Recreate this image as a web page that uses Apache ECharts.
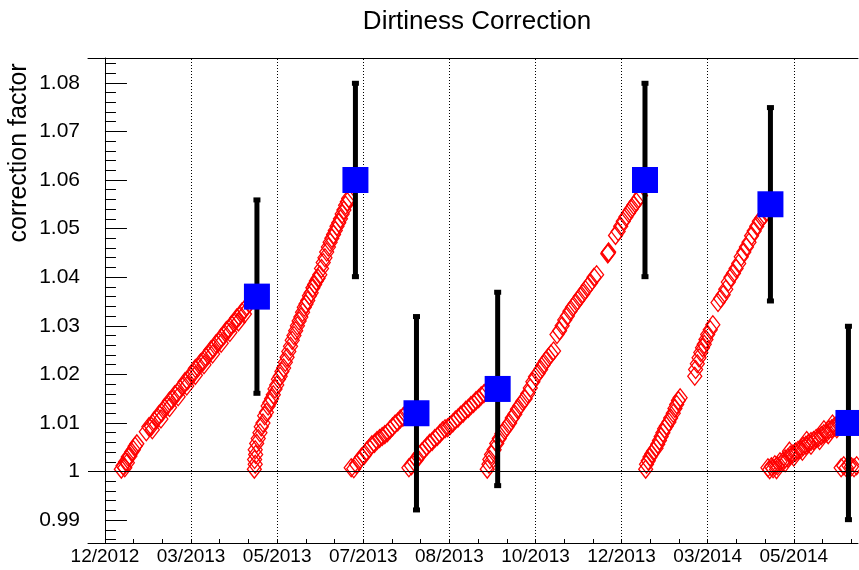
<!DOCTYPE html>
<html><head><meta charset="utf-8">
<script src="https://cdn.jsdelivr.net/npm/echarts@6/dist/echarts.min.js"></script>
<style>html,body{margin:0;padding:0;background:#fff}#c{width:859px;height:570px}</style>
</head><body><div id="c"></div>
<script>
// x axis: one unit per labelled division (0 = 12/2012 tick)
const xTickLabels = ['12/2012','03/2013','05/2013','07/2013','08/2013','10/2013','12/2013','03/2014','05/2014'];
const xTickPos = [0,1,2,3,4,5,6,7,8];
const xMinorPos = [0.333,0.667,1.333,1.667,2.333,2.667,3.333,3.667,4.333,4.667,5.333,5.667,6.333,6.667,7.333,7.667,8.333,8.667];
const yTickValues = [0.99,1.00,1.01,1.02,1.03,1.04,1.05,1.06,1.07,1.08];
const yMinorValues = [0.986,0.988,0.992,0.994,0.996,0.998,1.002,1.004,1.006,1.008,1.012,1.014,1.016,1.018,1.022,1.024,1.026,1.028,1.032,1.034,1.036,1.038,1.042,1.044,1.046,1.048,1.052,1.054,1.056,1.058,1.062,1.064,1.066,1.068,1.072,1.074,1.076,1.078,1.082,1.084];

// red open-diamond correction estimates, one array per ramp piece
const rampA1 = [[0.19,1.0005],[0.21,1.0012],[0.23,1.0008],[0.24,1.0020],[0.26,1.0018],[0.27,1.0030],[0.29,1.0032],[0.31,1.0040],[0.33,1.0045],[0.35,1.0052],[0.37,1.0057]];
const rampA2 = [[0.48,1.0082],[0.51,1.0092],[0.54,1.0093],[0.57,1.0104],[0.60,1.0108],[0.63,1.0118],[0.66,1.0121],[0.69,1.0131],[0.72,1.0135],[0.75,1.0145],[0.78,1.0148],[0.81,1.0158],[0.84,1.0161],[0.87,1.0170],[0.90,1.0175],[0.93,1.0185],[0.96,1.0187],[0.99,1.0197],[1.02,1.0200],[1.05,1.0212],[1.08,1.0214],[1.11,1.0224],[1.14,1.0226],[1.17,1.0236],[1.20,1.0240],[1.23,1.0250],[1.26,1.0253],[1.29,1.0263],[1.32,1.0266],[1.35,1.0276],[1.38,1.0280],[1.41,1.0290],[1.44,1.0293],[1.47,1.0302],[1.50,1.0306],[1.53,1.0316],[1.56,1.0319],[1.59,1.0328],[1.62,1.0333],[1.65,1.0340],
  [0.55,1.0086],[0.65,1.0108],[0.75,1.0132],[0.85,1.0154],[0.95,1.0176],[1.05,1.0198],[1.15,1.0220],[1.25,1.0242],[1.35,1.0264],[1.45,1.0286],[1.55,1.0308],[1.62,1.0324]];
const rampB = [[1.735,1.0005],[1.745,1.0015],[1.738,1.0025],[1.750,1.0035],[1.745,1.0045],[1.762,1.0058],[1.780,1.0068],[1.800,1.0080],[1.815,1.0092],[1.835,1.0100],[1.855,1.0115],[1.875,1.0122],[1.895,1.0135],[1.915,1.0142],[1.935,1.0150],[1.955,1.0158],[1.975,1.0170],[1.995,1.0178],[2.015,1.0190],[2.035,1.0196],[2.055,1.0206],[2.075,1.0213],[2.095,1.0225],[2.115,1.0235],[2.135,1.0247],[2.155,1.0258],[2.175,1.0270],[2.195,1.0280],[2.215,1.0290],[2.235,1.0300],[2.255,1.0310],[2.275,1.0318],[2.295,1.0328],[2.315,1.0338],[2.335,1.0345],[2.355,1.0352],[2.375,1.0362],[2.395,1.0368],[2.415,1.0378],[2.435,1.0385],[2.455,1.0392],[2.475,1.0398],[2.495,1.0405],[2.515,1.0418],[2.535,1.0430],[2.555,1.0440],[2.575,1.0452],[2.595,1.0462],[2.615,1.0472],[2.635,1.0480],[2.655,1.0488],[2.675,1.0496],[2.695,1.0505],[2.715,1.0512],[2.735,1.0520],[2.755,1.0530],[2.775,1.0538],[2.795,1.0548],[2.815,1.0555],[2.830,1.0562]];
const rampC = [[2.86,1.0008],[2.89,1.0006],[2.92,1.0015],[2.95,1.0022],[2.98,1.0030],[3.01,1.0033],[3.04,1.0042],[3.07,1.0048],[3.10,1.0055],[3.13,1.0058],[3.16,1.0064],[3.19,1.0068],[3.22,1.0072],[3.25,1.0076],[3.28,1.0080],[3.31,1.0086],[3.34,1.0092],[3.37,1.0098],[3.40,1.0102],[3.43,1.0108],[3.46,1.0112],[3.49,1.0118],[3.51,1.0122]];
const rampD = [[3.53,1.0008],[3.56,1.0012],[3.59,1.0020],[3.62,1.0025],[3.65,1.0034],[3.68,1.0040],[3.71,1.0046],[3.74,1.0052],[3.77,1.0058],[3.80,1.0062],[3.83,1.0068],[3.86,1.0072],[3.89,1.0078],[3.92,1.0084],[3.95,1.0088],[3.98,1.0090],[4.01,1.0095],[4.04,1.0100],[4.07,1.0106],[4.10,1.0110],[4.13,1.0116],[4.16,1.0120],[4.19,1.0126],[4.22,1.0130],[4.25,1.0136],[4.28,1.0140],[4.31,1.0146],[4.34,1.0150],[4.37,1.0156],[4.40,1.0160],[4.43,1.0165]];
const rampE = [[4.44,1.0005],[4.46,1.0015],[4.47,1.0025],[4.49,1.0035],[4.52,1.0045],[4.55,1.0058],[4.58,1.0068],[4.61,1.0078],[4.64,1.0085],[4.67,1.0092],[4.70,1.0100],[4.73,1.0110],[4.76,1.0118],[4.79,1.0128],[4.82,1.0136],[4.85,1.0144],[4.88,1.0150],[4.91,1.0160],[4.94,1.0172],[4.97,1.0185],[5.00,1.0195],[5.03,1.0202],[5.06,1.0210],[5.09,1.0220],[5.12,1.0228],[5.15,1.0235],[5.18,1.0242],[5.21,1.0248],[5.25,1.0282],[5.28,1.0290],[5.31,1.0300],[5.34,1.0312],[5.37,1.0320],[5.40,1.0330],[5.43,1.0338],[5.46,1.0345],[5.49,1.0352],[5.52,1.0360],[5.55,1.0366],[5.58,1.0374],[5.61,1.0382],[5.64,1.0388],[5.68,1.0400],[5.71,1.0405],[5.84,1.0448],[5.85,1.0452],[5.845,1.0450],[5.93,1.0486],[5.96,1.0494],[5.99,1.0505],[6.02,1.0515],[6.05,1.0524],[6.08,1.0532],[6.11,1.0540],[6.14,1.0548],[6.17,1.0555],[6.20,1.0562],[6.22,1.0568]];
const rampF = [[6.28,1.0005],[6.29,1.0015],[6.31,1.0022],[6.33,1.0030],[6.35,1.0036],[6.37,1.0042],[6.40,1.0048],[6.42,1.0056],[6.44,1.0064],[6.46,1.0072],[6.48,1.0080],[6.50,1.0088],[6.52,1.0094],[6.55,1.0102],[6.57,1.0110],[6.60,1.0120],[6.62,1.0130],[6.64,1.0138],[6.66,1.0146],[6.68,1.0152],[6.85,1.0196],[6.86,1.0210],[6.88,1.0222],[6.90,1.0234],[6.92,1.0245],[6.94,1.0255],[6.96,1.0262],[6.98,1.0272],[7.00,1.0282],[7.03,1.0292],[7.06,1.0302],[7.12,1.0348],[7.15,1.0356],[7.18,1.0364],[7.21,1.0375],[7.24,1.0390],[7.27,1.0400],[7.30,1.0408],[7.33,1.0418],[7.36,1.0428],[7.39,1.0442],[7.42,1.0452],[7.45,1.0462],[7.48,1.0472],[7.51,1.0485],[7.54,1.0495],[7.57,1.0505],[7.60,1.0515],[7.63,1.0522],[7.66,1.0528],[7.69,1.0535]];
const rampG = [[7.70,1.0008],[7.72,1.0004],[7.74,1.0010],[7.76,1.0006],[7.78,1.0014],[7.81,1.0012],[7.84,1.0020],[7.87,1.0020],[7.90,1.0026],[7.93,1.0028],[7.96,1.0034],[7.99,1.0036],[8.02,1.0040],[8.05,1.0044],[8.08,1.0046],[8.11,1.0052],[8.14,1.0054],[8.17,1.0058],[8.20,1.0062],[8.23,1.0064],[8.26,1.0068],[8.29,1.0070],[8.32,1.0074],[8.35,1.0078],[8.38,1.0080],[8.41,1.0086],[8.44,1.0088],[8.47,1.0092],[8.50,1.0096],[8.53,1.0100],[8.56,1.0104],
  [7.80,1.0004],[7.90,1.0018],[8.00,1.0030],[8.10,1.0042],[8.20,1.0054],[8.30,1.0064],[8.40,1.0076],[8.50,1.0088],[7.95,1.0042],[8.15,1.0064],[8.35,1.0086],[8.45,1.0098]];
const rampH = [[8.55,1.0008],[8.58,1.0012],[8.61,1.0008],[8.64,1.0012],[8.67,1.0010],[8.70,1.0008],[8.73,1.0012],[8.76,1.0010],[8.79,1.0008],[8.82,1.0012],[8.85,1.0010]];

// blue measured points with symmetric errors
const measX = [1.765, 2.909, 3.618, 4.561, 6.272, 7.729, 8.635];
const measY = [1.036, 1.060, 1.012, 1.017, 1.060, 1.055, 1.010];
const measErr = [0.02, 0.02, 0.02, 0.02, 0.02, 0.02, 0.02];

const FONT = '"Liberation Sans", Arial, Helvetica, sans-serif';
const ramps = [rampA1, rampA2, rampB, rampC, rampD, rampE, rampF, rampG, rampH];

const redSeries = ramps.map(r => ({
  type: 'scatter', z: 2, silent: true,
  symbol: 'diamond', symbolSize: [14, 18],
  itemStyle: { color: 'rgba(0,0,0,0)', borderColor: '#ff0000', borderWidth: 1.3, opacity: 1 },
  data: r
}));

const X_MIN = -0.197, X_MAX = 8.746;

const chart = echarts.init(document.getElementById('c'), null, { renderer: 'canvas' });
chart.setOption({
  animation: false,
  backgroundColor: '#ffffff',
  title: {
    text: 'Dirtiness Correction', left: 472, top: 4, textAlign: 'center',
    textStyle: { fontFamily: FONT, fontSize: 26, fontWeight: 'normal', color: '#000' }
  },
  graphic: [{
    type: 'text', x: 19, y: 153, rotation: Math.PI / 2,
    style: { text: 'correction factor', font: '25px ' + FONT, fill: '#000', textAlign: 'center', textVerticalAlign: 'middle' }
  }],
  grid: { left: 88, top: 58, right: 1, height: 485, show: false },
  xAxis: [{
    type: 'value', min: X_MIN, max: X_MAX, position: 'bottom',
    axisLine: { show: true, lineStyle: { color: '#000', width: 1 } },
    axisTick: { show: true, inside: true, length: 4, customValues: xTickPos, lineStyle: { color: '#000' } },
    axisLabel: { show: true, customValues: xTickPos, formatter: v => xTickLabels[Math.round(v)] || '', color: '#000', fontFamily: FONT, fontSize: 19, margin: 4 },
    splitLine: { show: false }
  }, {
    type: 'value', min: X_MIN, max: X_MAX, position: 'bottom',
    axisLine: { show: false },
    axisTick: { show: true, inside: true, length: 4, customValues: xMinorPos, lineStyle: { color: '#000' } },
    axisLabel: { show: false },
    splitLine: { show: false }
  }, {
    type: 'value', min: X_MIN, max: X_MAX, position: 'top',
    axisLine: { show: true, lineStyle: { color: '#000', width: 1 } },
    axisTick: { show: false }, axisLabel: { show: false }, splitLine: { show: false }
  }],
  yAxis: [{
    type: 'value', min: 0.9853, max: 1.0851, position: 'left',
    axisLine: { show: true, lineStyle: { color: '#000', width: 1 } },
    axisTick: { show: true, inside: true, length: 22, customValues: yTickValues, lineStyle: { color: '#000' } },
    axisLabel: { show: true, customValues: yTickValues, formatter: v => String(+v.toFixed(2)), color: '#000', fontFamily: FONT, fontSize: 21, margin: 8 },
    splitLine: { show: false }
  }, {
    type: 'value', min: 0.9853, max: 1.0851, position: 'left',
    axisLine: { show: false },
    axisTick: { show: true, inside: true, length: 11, customValues: yMinorValues, lineStyle: { color: '#000' } },
    axisLabel: { show: false },
    splitLine: { show: false }
  }],
  series: [
    {
      type: 'scatter', data: [], z: 1, silent: true,
      markLine: {
        silent: true, symbol: ['none', 'none'], label: { show: false }, animation: false,
        lineStyle: { color: '#000', type: [1, 2], width: 1 },
        data: xTickPos.map(v => ({ xAxis: v }))
      }
    },
    ...redSeries,
    {
      type: 'scatter', data: [], z: 3, silent: true,
      markLine: {
        silent: true, symbol: ['none', 'none'], label: { show: false }, animation: false,
        lineStyle: { color: '#000', type: 'solid', width: 1 },
        data: [{ yAxis: 1 }]
      }
    },
    {
      type: 'custom', z: 4, silent: true,
      encode: { x: 0, y: [1, 2] },
      renderItem: (params, api) => {
        const x = api.value(0), lo = api.value(1), hi = api.value(2);
        const pLo = api.coord([x, lo]), pHi = api.coord([x, hi]);
        return {
          type: 'group', children: [
            { type: 'line', shape: { x1: pLo[0], y1: pLo[1], x2: pHi[0], y2: pHi[1] }, style: { stroke: '#000', lineWidth: 5 } },
            { type: 'rect', shape: { x: pHi[0] - 3.5, y: pHi[1] - 2, width: 7, height: 5 }, style: { fill: '#000' } },
            { type: 'rect', shape: { x: pLo[0] - 3.5, y: pLo[1] - 3, width: 7, height: 5 }, style: { fill: '#000' } }
          ]
        };
      },
      data: measX.map((x, i) => [x, measY[i] - measErr[i], measY[i] + measErr[i]])
    },
    {
      type: 'scatter', z: 5, silent: true,
      symbol: 'rect', symbolSize: 26,
      itemStyle: { color: '#0000ff', opacity: 1 },
      data: measX.map((x, i) => [x, measY[i]])
    }
  ]
});
</script>
</body></html>
